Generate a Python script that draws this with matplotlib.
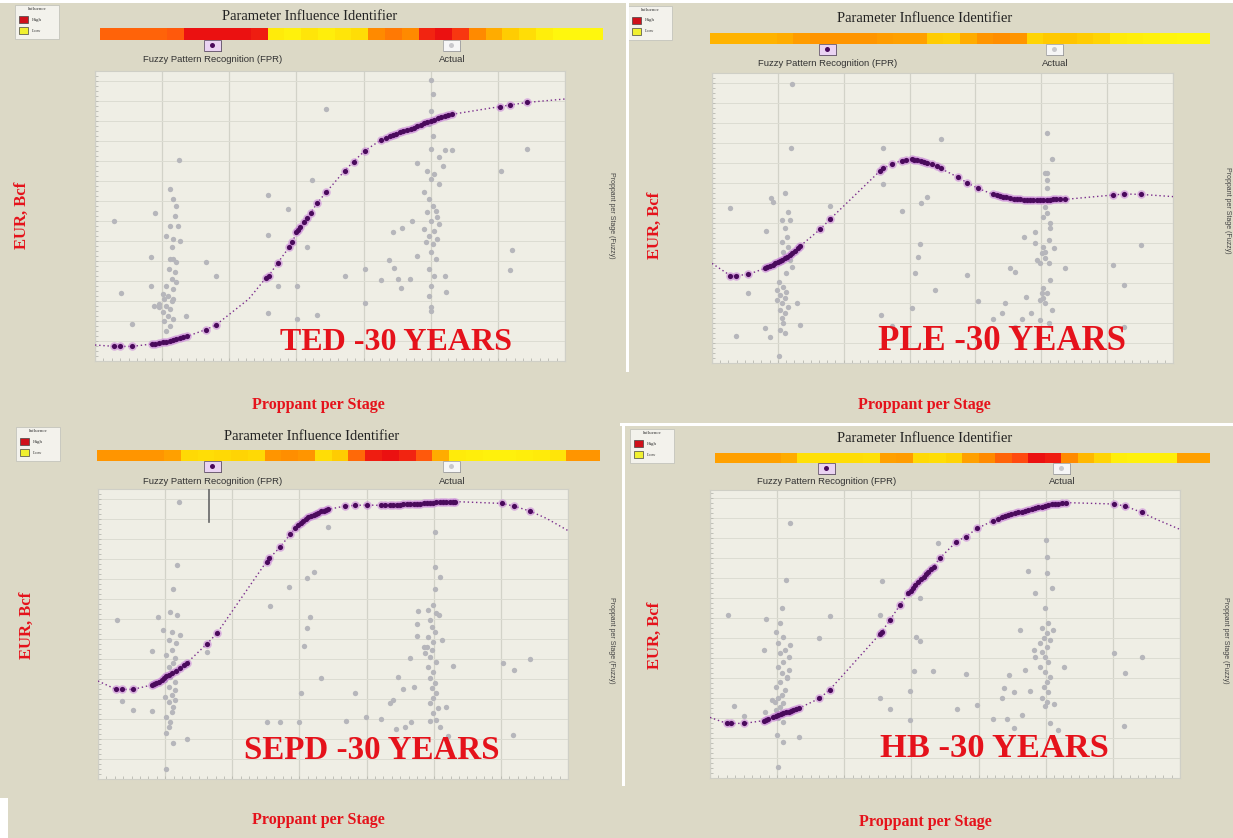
import numpy as np
import matplotlib
matplotlib.use("Agg")
import matplotlib.pyplot as plt
from matplotlib.colors import LinearSegmentedColormap
from matplotlib.patches import Rectangle, Ellipse

# ---------------- data (x: proppant grid units 0-7, y: EUR grid units) ----------------
ted_actual = np.array([
    [0.29, 7.0], [0.38, 3.38], [0.55, 1.85], [0.83, 5.18], [0.83, 3.77], [0.89, 7.4], [1.25, 10.07],
    [1.26, 6.02], [1.36, 2.27], [1.65, 4.93], [1.80, 4.27], [2.58, 8.3], [2.57, 6.3], [2.72, 3.77],
    [2.57, 2.4], [2.88, 7.6], [3.01, 3.77], [3.01, 2.12], [3.16, 5.68], [3.23, 9.07], [3.30, 2.3],
    [3.44, 12.6], [3.72, 4.27], [4.02, 4.6], [4.02, 2.9], [4.26, 4.07], [4.38, 5.05], [4.45, 4.63],
    [4.44, 6.47], [4.51, 4.1], [4.56, 3.67], [4.57, 6.63], [4.69, 4.1], [4.72, 7.02], [4.79, 9.88],
    [4.79, 5.27], [5.21, 10.57], [5.31, 10.57], [5.18, 9.73], [5.13, 8.85], [5.21, 4.27], [5.23, 3.43],
    [5.0, 2.68], [6.05, 9.52], [6.21, 5.57], [6.18, 4.57], [6.44, 10.6],
    [1.12, 8.6], [1.21, 7.77], [1.16, 8.1], [1.19, 7.27], [1.12, 6.77], [1.23, 6.77], [1.06, 6.27],
    [1.16, 6.1], [1.14, 5.68], [1.11, 5.1], [1.16, 5.1], [1.21, 4.93], [1.10, 4.6], [1.19, 4.43],
    [1.14, 4.1], [1.21, 3.93], [1.06, 3.77], [1.16, 3.6], [1.01, 3.35], [1.08, 3.27], [1.03, 3.1],
    [1.14, 3.02], [0.96, 2.85], [1.06, 2.77], [1.11, 2.6], [1.01, 2.43], [1.08, 2.27], [1.03, 2.02],
    [1.11, 1.77], [1.06, 1.52], [0.95, 2.68], [0.88, 2.77], [1.16, 3.1], [1.16, 2.1],
    [5.01, 14.07], [5.03, 13.35], [5.00, 12.52], [4.98, 11.85], [5.03, 11.27], [5.00, 10.6], [5.13, 10.18],
    [4.95, 9.52], [5.05, 9.35], [5.00, 9.1], [4.90, 8.43], [4.98, 8.1], [5.03, 7.77], [5.08, 7.52],
    [4.95, 7.43], [5.10, 7.18], [5.00, 7.02], [5.13, 6.85], [4.90, 6.6], [5.05, 6.52], [4.98, 6.27],
    [5.10, 6.1], [4.93, 5.93], [5.03, 5.85], [5.00, 5.43], [5.08, 5.1], [4.98, 4.6], [5.05, 4.27],
    [5.01, 3.77], [4.98, 3.27], [5.00, 2.52]])
ted_fpr = np.array([
    [0.29, 0.73], [0.37, 0.73], [0.55, 0.73], [0.85, 0.85], [0.90, 0.87], [0.96, 0.90], [1.01, 0.93],
    [1.06, 0.97], [1.11, 1.01], [1.16, 1.05], [1.21, 1.09], [1.26, 1.13], [1.31, 1.18], [1.37, 1.23],
    [1.65, 1.57], [1.80, 1.80], [2.54, 4.13], [2.59, 4.27], [2.72, 4.90], [2.89, 5.68], [2.94, 5.95],
    [3.00, 6.43], [3.03, 6.55], [3.06, 6.68], [3.11, 6.93], [3.16, 7.17], [3.21, 7.40], [3.31, 7.90],
    [3.44, 8.43], [3.72, 9.52], [3.85, 9.97], [4.02, 10.52], [4.26, 11.05], [4.33, 11.17], [4.39, 11.27],
    [4.44, 11.32], [4.49, 11.37], [4.54, 11.43], [4.59, 11.48], [4.65, 11.54], [4.70, 11.60], [4.75, 11.66],
    [4.80, 11.73], [4.85, 11.80], [4.90, 11.88], [4.95, 11.94], [5.00, 12.00], [5.05, 12.07], [5.11, 12.13],
    [5.16, 12.18], [5.21, 12.23], [5.26, 12.28], [5.31, 12.33], [6.03, 12.72], [6.18, 12.80], [6.44, 12.93]])
ted_line = np.array([[0.0, 0.8], [2.29, 3.1], [7.0, 13.1]])

ple_actual = np.array([
    [1.21, 13.95], [1.20, 10.77], [0.28, 7.73], [0.37, 1.35], [0.54, 3.52], [0.82, 6.62], [0.80, 1.77],
    [0.88, 1.32], [1.02, 0.37], [1.34, 1.9], [1.29, 2.98], [1.79, 7.85], [2.59, 10.73], [2.59, 8.95],
    [2.57, 2.4], [2.73, 1.85], [2.89, 7.6], [3.03, 2.73], [3.16, 5.93], [3.13, 5.32], [3.08, 4.48],
    [3.18, 8.0], [3.27, 8.32], [3.38, 3.65], [3.48, 11.18], [3.87, 4.4], [4.04, 3.12], [4.27, 2.18],
    [4.40, 2.48], [4.45, 2.98], [4.52, 4.73], [4.60, 4.57], [4.60, 1.82], [4.70, 2.18], [4.77, 3.28],
    [4.84, 2.48], [4.73, 6.32], [4.90, 6.57], [4.90, 6.02], [5.08, 11.52], [5.17, 10.18], [5.09, 9.48],
    [5.08, 8.73], [5.13, 7.0], [5.13, 6.73], [5.19, 5.73], [5.36, 4.73], [5.13, 4.15], [5.16, 2.65],
    [4.98, 2.15], [5.11, 1.98], [6.09, 4.9], [6.26, 3.9], [6.51, 5.9], [6.26, 1.82],
    [0.89, 8.23], [1.11, 8.48], [0.92, 8.07], [1.16, 7.57], [1.06, 7.15], [1.18, 7.15], [1.11, 6.73],
    [1.14, 6.32], [1.06, 6.07], [1.16, 5.82], [1.08, 5.57], [1.18, 5.15], [1.01, 4.07], [1.08, 3.82],
    [1.13, 3.57], [1.03, 3.4], [1.11, 3.23], [1.06, 2.98], [1.16, 2.82], [1.03, 2.65], [1.11, 2.48],
    [1.06, 2.23], [1.08, 1.98], [1.03, 1.65], [1.11, 1.48], [0.98, 3.65], [1.21, 4.82], [1.13, 4.48],
    [0.98, 3.15],
    [5.06, 9.48], [5.08, 9.15], [5.06, 7.82], [5.08, 7.48], [5.03, 7.32], [5.06, 5.57], [5.01, 5.48],
    [5.06, 5.23], [4.98, 4.98], [5.11, 4.98], [5.03, 3.73], [5.01, 3.48], [5.08, 3.48], [5.03, 3.23],
    [4.98, 3.15], [5.06, 2.98], [5.11, 6.15], [4.93, 5.15], [5.02, 5.82]])
ple_fpr = np.array([
    [0.28, 4.37], [0.36, 4.37], [0.55, 4.43], [0.80, 4.73], [0.84, 4.79], [0.88, 4.85], [0.92, 4.91],
    [0.96, 4.98], [1.00, 5.04], [1.03, 5.10], [1.07, 5.16], [1.11, 5.23], [1.14, 5.31], [1.18, 5.40],
    [1.22, 5.50], [1.26, 5.62], [1.30, 5.73], [1.34, 5.85], [1.64, 6.68], [1.79, 7.18], [2.55, 9.60],
    [2.60, 9.73], [2.73, 9.95], [2.88, 10.12], [2.95, 10.16], [3.03, 10.18], [3.07, 10.17], [3.11, 10.15],
    [3.18, 10.10], [3.22, 10.06], [3.26, 10.02], [3.34, 9.93], [3.41, 9.85], [3.47, 9.73], [3.74, 9.28],
    [3.87, 9.02], [4.04, 8.73], [4.27, 8.43], [4.32, 8.39], [4.37, 8.35], [4.42, 8.31], [4.47, 8.28],
    [4.52, 8.25], [4.58, 8.22], [4.63, 8.20], [4.68, 8.18], [4.73, 8.16], [4.78, 8.15], [4.83, 8.14],
    [4.88, 8.13], [4.93, 8.13], [4.98, 8.13], [5.03, 8.14], [5.08, 8.15], [5.13, 8.16], [5.18, 8.18],
    [5.23, 8.18], [5.28, 8.18], [5.36, 8.18], [6.09, 8.40], [6.26, 8.45], [6.52, 8.43]])
ple_line = np.array([[0.0, 4.98], [7.0, 8.32]])

sepd_actual = np.array([
    [1.20, 13.87], [1.18, 10.7], [1.12, 9.48], [0.29, 7.95], [0.80, 6.42], [0.35, 3.9], [0.52, 3.45],
    [0.81, 3.42], [1.12, 1.82], [1.33, 1.98], [1.01, 0.48], [1.63, 6.37], [2.56, 8.65], [2.85, 9.62],
    [2.51, 2.87], [2.71, 2.87], [3.00, 2.87], [3.03, 4.32], [3.07, 6.65], [3.11, 7.53], [3.15, 8.08],
    [3.11, 10.03], [3.22, 10.37], [3.43, 12.62], [3.32, 5.03], [3.70, 2.92], [3.83, 4.32], [3.99, 3.08],
    [4.22, 2.98], [4.35, 3.82], [4.40, 3.95], [4.44, 2.48], [4.47, 5.12], [4.55, 4.48], [4.57, 2.62],
    [4.66, 2.87], [4.65, 6.03], [4.71, 4.62], [4.75, 7.13], [4.75, 7.75], [4.77, 8.38], [5.02, 12.37],
    [5.02, 10.58], [5.09, 10.12], [5.02, 9.48], [5.08, 8.2], [5.12, 6.95], [5.29, 5.65], [5.19, 3.62],
    [5.09, 2.62], [5.22, 2.15], [4.94, 2.92], [6.03, 5.78], [6.19, 5.45], [6.43, 5.98], [6.18, 2.2],
    [1.07, 8.37], [1.17, 8.2], [0.90, 8.12], [0.97, 7.45], [1.10, 7.37], [1.22, 7.2], [1.05, 6.95],
    [1.16, 6.78], [1.10, 6.45], [1.02, 6.2], [1.15, 6.03], [1.12, 5.78], [1.05, 5.62], [1.17, 5.45],
    [1.07, 5.12], [1.00, 4.95], [1.15, 4.87], [1.05, 4.62], [1.15, 4.45], [1.10, 4.2], [1.00, 4.12],
    [1.15, 3.95], [1.05, 3.87], [1.12, 3.62], [1.10, 3.37], [1.02, 3.12], [1.07, 2.87], [1.05, 2.62],
    [1.01, 2.28],
    [4.99, 8.7], [4.92, 8.45], [5.04, 8.28], [4.94, 7.95], [4.97, 7.62], [5.02, 7.37], [4.92, 7.12],
    [4.99, 6.87], [4.90, 6.62], [4.97, 6.45], [4.94, 6.12], [5.04, 5.87], [4.92, 5.62], [4.99, 5.37],
    [4.94, 5.03], [5.02, 4.78], [4.97, 4.53], [5.04, 4.28], [4.99, 4.03], [4.94, 3.78], [5.07, 3.53],
    [4.99, 3.28], [5.04, 2.95], [4.85, 6.62], [4.87, 6.28]])
sepd_fpr = np.array([
    [0.27, 4.48], [0.35, 4.48], [0.52, 4.48], [0.80, 4.70], [0.84, 4.74], [0.87, 4.78], [0.91, 4.86],
    [0.95, 4.95], [0.99, 5.05], [1.02, 5.15], [1.06, 5.22], [1.10, 5.28], [1.16, 5.40], [1.22, 5.53],
    [1.28, 5.68], [1.33, 5.82], [1.62, 6.75], [1.77, 7.28], [2.51, 10.87], [2.55, 11.03], [2.71, 11.58],
    [2.86, 12.23], [2.94, 12.55], [2.98, 12.70], [3.02, 12.82], [3.06, 12.92], [3.10, 13.00], [3.13, 13.08],
    [3.17, 13.15], [3.21, 13.20], [3.25, 13.27], [3.28, 13.32], [3.32, 13.38], [3.36, 13.42], [3.40, 13.45],
    [3.43, 13.48], [3.68, 13.65], [3.83, 13.68], [4.00, 13.70], [4.22, 13.68], [4.28, 13.69], [4.35, 13.70],
    [4.40, 13.71], [4.45, 13.72], [4.50, 13.72], [4.55, 13.73], [4.60, 13.74], [4.65, 13.75], [4.70, 13.76],
    [4.75, 13.77], [4.80, 13.77], [4.85, 13.78], [4.90, 13.80], [4.94, 13.82], [4.99, 13.82], [5.04, 13.83],
    [5.09, 13.84], [5.14, 13.85], [5.19, 13.86], [5.24, 13.87], [5.28, 13.87], [5.32, 13.87], [6.01, 13.78],
    [6.19, 13.65], [6.43, 13.40]])
sepd_line = np.array([[0.0, 4.9], [6.68, 13.03], [7.0, 12.42]])
sepd_cursor = np.array([[1.66, 12.87], [1.66, 14.55]])

hb_actual = np.array([
    [1.19, 12.73], [1.13, 9.9], [0.27, 8.15], [0.35, 3.6], [0.51, 3.1], [0.82, 3.32], [1.00, 2.15],
    [1.09, 1.82], [1.32, 2.03], [1.02, 0.57], [0.80, 6.4], [0.84, 7.93], [1.63, 6.98], [1.78, 8.1],
    [2.56, 9.87], [2.53, 4.0], [2.68, 3.43], [2.98, 4.37], [2.98, 2.88], [3.04, 5.37], [3.07, 7.03],
    [3.13, 6.85], [3.13, 9.0], [3.32, 5.37], [3.40, 11.77], [3.68, 3.45], [3.81, 5.18], [3.97, 3.65],
    [4.21, 2.93], [4.35, 3.98], [4.38, 4.48], [4.43, 2.93], [4.46, 5.15], [4.53, 4.32], [4.53, 2.48],
    [4.64, 3.15], [4.61, 7.4], [4.69, 5.4], [4.77, 4.37], [4.74, 10.37], [4.84, 9.23], [5.00, 11.9],
    [5.02, 11.07], [5.02, 10.27], [5.09, 9.48], [5.11, 7.4], [5.27, 5.57], [5.19, 2.4], [5.07, 2.73],
    [6.01, 6.27], [6.18, 5.23], [6.43, 6.07], [6.17, 2.6], [2.53, 8.13],
    [1.07, 8.48], [1.04, 7.73], [0.99, 7.32], [1.08, 7.07], [1.02, 6.73], [1.19, 6.65], [1.12, 6.4],
    [1.04, 6.23], [1.17, 6.07], [1.09, 5.82], [1.02, 5.57], [1.18, 5.4], [1.07, 5.23], [1.14, 4.98],
    [1.04, 4.82], [0.99, 4.57], [1.12, 4.4], [1.07, 4.15], [1.02, 3.98], [0.97, 3.82], [1.09, 3.77],
    [1.04, 3.57], [0.99, 3.4], [1.07, 3.23], [1.02, 2.98], [1.09, 2.82], [0.92, 3.9], [1.15, 5.07],
    [4.99, 8.48], [5.04, 7.73], [4.94, 7.48], [5.02, 7.23], [4.97, 6.98], [5.07, 6.9], [4.92, 6.73],
    [5.02, 6.57], [4.94, 6.32], [4.99, 6.07], [5.04, 5.82], [4.92, 5.57], [4.99, 5.32], [5.07, 5.07],
    [5.02, 4.82], [4.97, 4.57], [5.04, 4.32], [4.94, 3.98], [5.02, 3.82], [5.12, 3.7], [4.99, 3.6],
    [4.82, 6.4], [4.84, 6.07]])
hb_fpr = np.array([
    [0.25, 2.73], [0.32, 2.73], [0.51, 2.73], [0.80, 2.87], [0.84, 2.90], [0.87, 2.93], [0.94, 3.03],
    [0.98, 3.09], [1.02, 3.15], [1.06, 3.19], [1.09, 3.23], [1.13, 3.28], [1.17, 3.32], [1.21, 3.36],
    [1.24, 3.40], [1.28, 3.44], [1.32, 3.48], [1.63, 3.98], [1.78, 4.40], [2.53, 7.20], [2.56, 7.32],
    [2.68, 7.90], [2.83, 8.65], [2.95, 9.23], [2.99, 9.36], [3.03, 9.48], [3.06, 9.65], [3.10, 9.82],
    [3.14, 9.95], [3.18, 10.07], [3.21, 10.20], [3.25, 10.32], [3.29, 10.45], [3.33, 10.57], [3.42, 10.98],
    [3.67, 11.82], [3.81, 12.07], [3.98, 12.48], [4.22, 12.87], [4.29, 12.95], [4.35, 13.03], [4.40, 13.09],
    [4.44, 13.15], [4.49, 13.19], [4.54, 13.23], [4.59, 13.28], [4.64, 13.32], [4.69, 13.36], [4.74, 13.40],
    [4.79, 13.44], [4.84, 13.48], [4.89, 13.53], [4.94, 13.57], [4.99, 13.61], [5.04, 13.65], [5.09, 13.68],
    [5.14, 13.70], [5.19, 13.72], [5.24, 13.73], [5.30, 13.77], [6.01, 13.70], [6.18, 13.60], [6.43, 13.28]])
hb_line = np.array([[0.0, 3.03], [6.65, 12.93], [7.0, 12.43]])

# parameter influence bars (0 = low/yellow, 1 = high/red), left to right
ted_influence = [0.72, 0.72, 0.72, 0.72, 0.75, 0.95, 0.95, 0.95, 0.95, 0.92, 0.12, 0.08, 0.15, 0.1, 0.15,
                 0.2, 0.6, 0.65, 0.6, 0.9, 0.95, 0.85, 0.6, 0.45, 0.3, 0.2, 0.1, 0.05, 0.05, 0.05]
ple_influence = [0.42, 0.42, 0.42, 0.42, 0.45, 0.52, 0.55, 0.55, 0.55, 0.55, 0.52, 0.5, 0.5, 0.3, 0.28,
                 0.45, 0.55, 0.58, 0.55, 0.25, 0.32, 0.35, 0.3, 0.25, 0.12, 0.1, 0.08, 0.06, 0.05, 0.05]
sepd_influence = [0.55, 0.55, 0.55, 0.55, 0.5, 0.22, 0.2, 0.22, 0.25, 0.22, 0.55, 0.58, 0.55, 0.2, 0.3,
                  0.7, 0.92, 0.95, 0.9, 0.75, 0.45, 0.12, 0.1, 0.08, 0.08, 0.1, 0.12, 0.15, 0.55, 0.55]
hb_influence = [0.5, 0.5, 0.5, 0.5, 0.45, 0.18, 0.18, 0.2, 0.2, 0.18, 0.5, 0.52, 0.22, 0.2, 0.25,
                0.5, 0.6, 0.72, 0.8, 0.95, 0.92, 0.6, 0.4, 0.25, 0.1, 0.08, 0.08, 0.1, 0.5, 0.5]

# ---------------- drawing ----------------
W, H = 1233, 838
BG = "#dcd9c6"
RED = "#e5121b"
SERIF = ["Liberation Serif", "DejaVu Serif"]
SANS = ["Liberation Sans", "DejaVu Sans"]
cmap = LinearSegmentedColormap.from_list("infl", [(0, "#ffff10"), (0.35, "#ffc400"), (0.6, "#ff8a00"),
                                                   (0.8, "#ff4a10"), (1, "#e60012")])

fig = plt.figure(figsize=(W / 100, H / 100), dpi=100, facecolor=BG)


def fx(x): return x / W
def fy(y): return 1 - y / H
def box(l, t, w, h): return [l / W, 1 - (t + h) / H, w / W, h / H]


def rect(l, t, w, h, **kw):
    fig.add_artist(Rectangle((l / W, 1 - (t + h) / H), w / W, h / H, transform=fig.transFigure, **kw))


def text(x, y, s, **kw):
    fig.text(fx(x), fy(y), s, ha=kw.pop("ha", "center"), va=kw.pop("va", "center"), **kw)


def icon(cx, cy, fpr):
    rect(cx - 8, cy - 5, 17, 11, facecolor="#404040", lw=0)
    rect(cx - 9, cy - 6, 17, 11, facecolor="#ead3f2" if fpr else "#f6f6f6",
         edgecolor="#6a5a70" if fpr else "#a8a8a8", lw=0.6)
    fig.add_artist(Ellipse((fx(cx - 0.5), fy(cy - 0.5)), 5 / W, 5 / H, transform=fig.transFigure,
                           facecolor="#4a0a5c" if fpr else "#c8c8cc", lw=0))


def panel(actual, fpr, line, influence, name, L, cursor=None):
    # legend box
    lx, ly = L["legend"]
    rect(lx, ly, 44, 34, facecolor="#f3f2ec", edgecolor="#c4c4bc", lw=0.6)
    text(lx + 22, ly + 4, "Influence", fontsize=3.5, family=SERIF, color="#333")
    rect(lx + 4, ly + 11, 9, 7, facecolor="#d0101a", edgecolor="#444", lw=0.5)
    rect(lx + 4, ly + 22, 9, 7, facecolor="#f0f030", edgecolor="#444", lw=0.5)
    text(lx + 17, ly + 14.5, "High", fontsize=3.6, family=SERIF, color="#333", ha="left")
    text(lx + 17, ly + 25.5, "Low", fontsize=3.6, family=SERIF, color="#333", ha="left")
    # title and influence bar
    text(*L["title"], "Parameter Influence Identifier", fontsize=10.5, family=SERIF, color="#222")
    bx = fig.add_axes(box(*L["bar"]))
    bx.imshow(np.array([influence]), cmap=cmap, vmin=0, vmax=1, aspect="auto", interpolation="nearest")
    bx.axis("off")
    # series buttons and labels
    (fxp, fyp), (axp, ayp) = L["icons"]
    icon(fxp, fyp, True)
    icon(axp, ayp, False)
    text(fxp, L["lab_y"], "Fuzzy Pattern Recognition (FPR)", fontsize=6.8, family=SANS, color="#333")
    text(axp, L["lab_y"], "Actual", fontsize=6.8, family=SANS, color="#333")
    # plot area
    l, t, w, h = L["axes"]
    ax = fig.add_axes(box(l, t, w, h))
    ax.set_facecolor("#efeee5")
    ax.set_xlim(0, 7)
    ax.set_ylim(0, h / 20)
    ax.set_xticks(np.arange(0, 8, 1))
    ax.set_yticks(np.arange(0, h / 20, 1))
    ax.set_xticks(np.arange(0, 7, 0.125), minor=True)
    ax.set_yticks(np.arange(0, h / 20, 0.25), minor=True)
    ax.tick_params(which="both", direction="in", length=2.5, color="#b8b8b0", width=0.6,
                   labelbottom=False, labelleft=False)
    ax.xaxis.grid(True, color="#d2d2c8", lw=0.9)
    ax.yaxis.grid(True, color="#dcdcd2", lw=0.7)
    ax.set_axisbelow(True)
    for sp in ax.spines.values():
        sp.set_color("#cfcfc6")
    ax.scatter(actual[:, 0], actual[:, 1], s=15, color="#b6b6bb", lw=0, zorder=2)
    pts = np.vstack([fpr, line])
    pts = pts[np.argsort(pts[:, 0])]
    ax.plot(pts[:, 0], pts[:, 1], color="#7a2c8c", lw=1.0, ls=(0, (1, 2)), zorder=3)
    ax.scatter(fpr[:, 0], fpr[:, 1], s=38, color="#c77fd8", alpha=0.55, lw=0, zorder=4)
    ax.scatter(fpr[:, 0], fpr[:, 1], s=14, color="#4a0a5c", lw=0, zorder=5)
    if cursor is not None:
        ax.plot(cursor[:, 0], cursor[:, 1], color="#666", lw=1.2, zorder=6)
    # labels
    text(*L["big"], name + " -30 YEARS", fontsize=L["big_fs"], family=SERIF, weight="bold", color=RED)
    text(*L["eur"], "EUR, Bcf", fontsize=12, family=SERIF, weight="bold", color=RED, rotation=90)
    text(*L["prop"], "Proppant per Stage", fontsize=11.5, family=SERIF, weight="bold", color=RED)
    text(*L["side"], "Proppant per Stage (Fuzzy)", fontsize=5, family=SANS, color="#444", rotation=270)


panel(ted_actual, ted_fpr, ted_line, ted_influence, "TED",
      dict(legend=(15, 5), title=(310, 16), bar=(100, 28, 503, 12), icons=((213, 46), (452, 46)), lab_y=60,
           axes=(95, 71, 470, 290), eur=(22, 215), prop=(318, 405), side=(612, 215), big=(396, 342), big_fs=23))
panel(ple_actual, ple_fpr, ple_line, ple_influence, "PLE",
      dict(legend=(628, 6), title=(925, 18), bar=(710, 33, 500, 11), icons=((828, 50), (1055, 50)), lab_y=63,
           axes=(712, 73, 461, 290), eur=(655, 225), prop=(924, 405), side=(1228, 210), big=(1002, 342),
           big_fs=25))
panel(sepd_actual, sepd_fpr, sepd_line, sepd_influence, "SEPD",
      dict(legend=(16, 427), title=(312, 436), bar=(97, 450, 503, 11), icons=((213, 467), (452, 467)), lab_y=481,
           axes=(98, 489, 470, 290), eur=(27, 625), prop=(318, 820), side=(612, 640), big=(372, 750),
           big_fs=23.8),
      cursor=sepd_cursor)
panel(hb_actual, hb_fpr, hb_line, hb_influence, "HB",
      dict(legend=(630, 429), title=(925, 438), bar=(715, 453, 495, 10), icons=((827, 469), (1062, 469)), lab_y=481,
           axes=(710, 490, 470, 288), eur=(655, 635), prop=(925, 822), side=(1225, 640), big=(994, 748),
           big_fs=24.8))

# screenshot separators
rect(0, 0, W, 3, facecolor="white", lw=0)
rect(626, 0, 3, 372, facecolor="white", lw=0)
rect(620, 423, W - 620, 3, facecolor="white", lw=0)
rect(622, 426, 3, 360, facecolor="white", lw=0)
rect(0, 798, 8, 40, facecolor="white", lw=0)

fig.savefig("out.png", dpi=100, facecolor=BG)
